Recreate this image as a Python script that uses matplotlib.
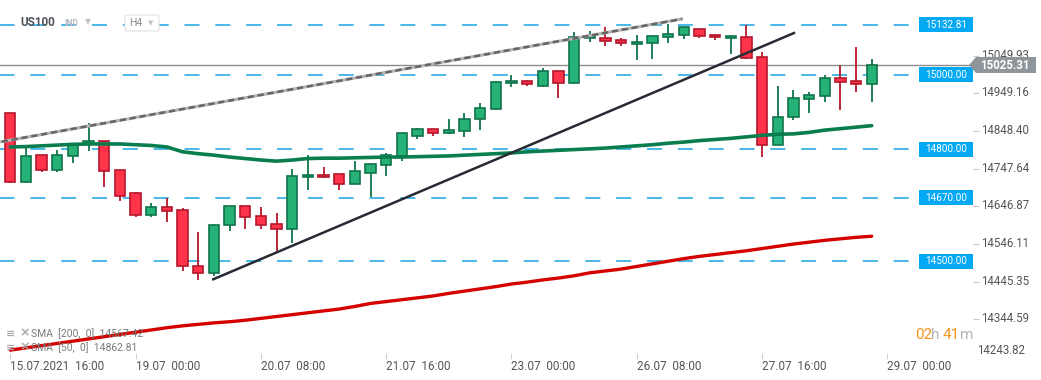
import matplotlib
matplotlib.use("Agg")
import matplotlib.pyplot as plt
from matplotlib.patches import Rectangle, Polygon, FancyBboxPatch
from matplotlib.transforms import blended_transform_factory, ScaledTranslation

plt.rcParams['font.family'] = ['Roboto', 'DejaVu Sans']

# ---------------- data ----------------
time_labels = ["15.07.2021  16:00", "19.07  00:00", "20.07  08:00", "21.07  16:00",
               "23.07  00:00", "26.07  08:00", "27.07  16:00", "29.07  00:00"]
label_index = [0, 8, 16, 24, 32, 40, 48, 56]

opens = [14896.1, 14711.4, 14783.7, 14743.5, 14781.0, 14813.1, 14821.2, 14743.5,
         14681.9, 14623.0, 14644.4, 14636.4, 14486.5, 14467.7, 14596.3, 14647.9,
         14621.1, 14598.9, 14587.1, 14724.8, 14730.9, 14732.8, 14706.0, 14737.1,
         14756.9, 14781.0, 14834.5, 14853.3, 14842.6, 14847.9, 14880.1, 14906.8,
         14976.4, 14981.8, 14968.4, 15008.6, 14976.4, 15096.9, 15096.9, 15091.6,
         15080.9, 15083.5, 15099.6, 15105.0, 15121.0, 15105.0, 15096.9, 15099.6,
         15046.1, 14810.4, 14885.4, 14933.6, 14941.6, 14989.8, 14981.8, 14973.8]
closes = [14711.4, 14781.0, 14743.5, 14783.7, 14813.1, 14821.2, 14740.8, 14673.9,
          14623.0, 14644.4, 14633.7, 14486.5, 14467.7, 14596.3, 14647.9, 14617.7,
          14596.3, 14587.1, 14728.2, 14730.9, 14724.8, 14706.0, 14741.6, 14759.6,
          14783.7, 14843.4, 14853.3, 14842.6, 14850.6, 14880.1, 14909.5, 14979.1,
          14981.8, 14973.8, 15008.6, 14976.4, 15099.6, 15102.3, 15088.9, 15083.5,
          15086.2, 15102.3, 15107.6, 15126.4, 15102.3, 15099.6, 15102.3, 15043.4,
          14810.4, 14885.4, 14936.3, 14944.3, 14989.8, 14979.1, 14973.8, 15025.31]
highs = [14898.0, 14802.4, 14784.0, 14797.9, 14814.0, 14869.3, 14822.0, 14744.0,
         14685.4, 14655.2, 14670.1, 14641.8, 14577.5, 14599.7, 14648.0, 14648.0,
         14645.2, 14629.2, 14747.0, 14784.5, 14752.3, 14733.5, 14768.4, 14760.0,
         14789.8, 14844.7, 14856.8, 14855.4, 14880.9, 14896.9, 14923.7, 14982.6,
         14997.9, 14984.5, 15016.6, 15009.4, 15113.0, 15115.7, 15126.4, 15096.9,
         15105.0, 15103.0, 15134.4, 15127.0, 15122.0, 15107.6, 15103.0, 15132.5,
         15059.4, 14968.4, 14957.7, 14952.3, 14997.9, 15024.6, 15072.8, 15040.7]
lows = [14709.0, 14710.0, 14739.8, 14739.8, 14763.9, 14796.0, 14699.6, 14662.1,
        14617.7, 14617.7, 14605.9, 14474.7, 14450.6, 14461.3, 14581.8, 14587.1,
        14587.1, 14523.9, 14549.7, 14690.8, 14724.0, 14690.8, 14705.5, 14672.8,
        14729.0, 14769.2, 14828.1, 14836.1, 14842.0, 14831.9, 14852.2, 14905.0,
        14967.3, 14968.4, 14965.7, 14937.9, 14973.8, 15086.2, 15075.5, 15075.5,
        15039.6, 15042.3, 15083.5, 15094.2, 15096.9, 15091.6, 15054.1, 15040.7,
        14778.3, 14810.0, 14877.4, 14896.1, 14925.6, 14904.1, 14952.3, 14925.6]

sma50 = [14806, 14807, 14809, 14811, 14813, 14814, 14814, 14814, 14812, 14810,
         14806, 14793, 14788, 14784, 14779, 14775, 14771, 14768, 14771, 14775,
         14776, 14776, 14777, 14778, 14779, 14779, 14780, 14781, 14782, 14784,
         14786, 14788, 14790, 14793, 14795, 14797, 14799, 14801, 14803, 14806,
         14809, 14812, 14816, 14819, 14823, 14826, 14829, 14833, 14837, 14840,
         14841, 14845, 14851, 14855, 14859, 14863]
sma200 = [14262, 14268, 14274, 14280, 14286, 14292, 14298, 14304, 14310, 14316,
          14322, 14327, 14331, 14335, 14338, 14342, 14347, 14352, 14357, 14362,
          14367, 14372, 14379, 14387, 14392, 14397, 14402, 14407, 14414, 14420,
          14426, 14432, 14439, 14444, 14450, 14455, 14461, 14469, 14474, 14479,
          14486, 14493, 14500, 14507, 14513, 14518, 14523, 14528, 14534, 14540,
          14546, 14551, 14556, 14560, 14564, 14567]

level_values = [15132.81, 15000.00, 14800.00, 14670.00, 14500.00]
last_price = 15025.31
ytick_values = [15049.93, 14949.16, 14848.40, 14747.64, 14646.87, 14546.11, 14445.35, 14344.59]
bottom_label = 14243.82
upper_trend_x = [-0.55, 42.87]
upper_trend_y = [14820.1, 15148.6]
lower_trend_x = [12.96, 50.04]
lower_trend_y = [14451.7, 15111.1]
sma200_last = 14567.42
sma50_last = 14862.81

# ---------------- figure ----------------
W, H = 1041, 380
fig = plt.figure(figsize=(W / 100, H / 100), dpi=100)
fig.patch.set_facecolor('white')


def px(x, y):
    return (x / W, 1 - y / H)


ax_right = 973
ax_bottom = 353
ax = fig.add_axes([0, (H - ax_bottom) / H, ax_right / W, ax_bottom / H])
ax.set_facecolor('white')
ax.set_xlim(-0.658, 61.47)
ax.set_ylim(14254.3, 15199.5)
for s in ax.spines.values():
    s.set_visible(False)

blue = '#29abe2'
trans = blended_transform_factory(ax.transAxes, ax.transData)
tag_left = 919 / ax_right
for lv in level_values:
    ax.axhline(lv, xmin=0, xmax=tag_left, color=blue, lw=1.2,
               linestyle=(0.3, (9, 9.5)), zorder=1)
    ax.add_patch(Rectangle((tag_left, lv - 20), 1 - tag_left, 40,
                           transform=trans, facecolor='#03a9f4', edgecolor='none',
                           zorder=6, clip_on=False))
    ax.text((tag_left + 1) / 2, lv, f"{lv:.2f}", transform=trans, ha='center',
            va='center', color='white', fontsize=7.2, zorder=7)

# current price line
ax.axhline(last_price, color='#8c8c8c', lw=1.0, zorder=2)

# candles
red_fill, red_edge = '#ff3349', '#b5172c'
grn_fill, grn_edge = '#26b276', '#10744a'
bw = 0.66
for i in range(len(opens)):
    o, c, h, l = opens[i], closes[i], highs[i], lows[i]
    up = c >= o
    fc = grn_fill if up else red_fill
    ec = grn_edge if up else red_edge
    ax.vlines(i, l, h, color=ec, lw=1.3, zorder=3)
    lo, hi = min(o, c), max(o, c)
    if hi - lo < 5:
        mid = (hi + lo) / 2
        lo, hi = mid - 2.5, mid + 2.5
    ax.add_patch(Rectangle((i - bw / 2, lo), bw, hi - lo, facecolor=fc,
                           edgecolor=ec, lw=1.2, zorder=4))

xs = list(range(len(opens)))
ax.plot(xs, sma50, color='#0a7d4f', lw=2.6, zorder=5, solid_capstyle='round')
ax.plot(xs, sma200, color='#d40000', lw=2.4, zorder=5, solid_capstyle='round')

# trend lines
ax.plot(upper_trend_x, upper_trend_y, color='#b4b4b4', lw=2.2, zorder=5)
ax.plot(upper_trend_x, upper_trend_y, color='#666666', lw=1.8,
        linestyle=(0, (2.5, 1.5)), zorder=5)
ax.plot(lower_trend_x, lower_trend_y, color='#262b33', lw=1.8, zorder=5)

# axes ticks
ax.yaxis.tick_right()
ax.set_yticks(ytick_values)
ax.set_yticklabels([f"{v:.2f}" for v in ytick_values])
ax.tick_params(axis='y', direction='out', length=4, width=0.8, color='#c8c8c8',
               labelsize=8.3, labelcolor='#555555', pad=2)
shift = ScaledTranslation(0, 2 / 100, fig.dpi_scale_trans)
for lab in ax.get_yticklabels():
    lab.set_transform(lab.get_transform() + shift)
ax.set_xticks(label_index)
ax.set_xticklabels(time_labels, ha='left')
ax.tick_params(axis='x', direction='out', length=4, width=0.8, color='#d0d0d0',
               labelsize=8.5, labelcolor='#555555', pad=1)
fig.text(*px(977, 350), f"{bottom_label:.2f}", ha='left', va='center',
         fontsize=8.3, color='#555555')

# current price tag
tag = Polygon([px(969, 65), px(976, 57), px(1036, 57), px(1036, 73), px(976, 73)],
              closed=True, transform=fig.transFigure, facecolor='#8e969b',
              edgecolor='none', zorder=10)
fig.patches.append(tag)
fig.text(*px(1005, 65.5), f"{last_price:.2f}", ha='center', va='center',
         fontsize=8.3, fontweight='bold', color='white', zorder=11)

# header
fig.text(*px(20, 23), "US100", ha='left', va='center', fontsize=8.5,
         fontweight='bold', color='#4d5258')
fig.text(*px(64, 24), "IND", ha='left', va='center', fontsize=6.2,
         fontweight='bold', color='#b3bac1')
fig.text(*px(85, 21.5), "\u25BC", ha='left', va='center', fontsize=5.5,
         color='#c4c4c4', family='DejaVu Sans')
box = FancyBboxPatch(px(125, 31), 34 / W, 16 / H, boxstyle='round,pad=0,rounding_size=0.004',
                     transform=fig.transFigure, facecolor='white', edgecolor='#e2e2e2',
                     lw=0.8)
fig.patches.append(box)
fig.text(*px(129, 23.5), "H4", ha='left', va='center', fontsize=7.5, color='#8a8a8a')
fig.text(*px(148, 23), "\u25BC", ha='left', va='center', fontsize=5, color='#c4c4c4',
         family='DejaVu Sans')

# SMA legend
for yy, txt in [(333.5, f"SMA  [200,  0]  {sma200_last:.2f}"),
                (347.5, f"SMA  [50,  0]  {sma50_last:.2f}")]:
    fig.text(*px(6, yy), "\u2261", ha='left', va='center', fontsize=8,
             color='#a8a8a8', family='DejaVu Sans', fontweight='bold')
    fig.text(*px(19, yy - 1), "\u00D7", ha='left', va='center', fontsize=9,
             color='#a8a8a8', family='DejaVu Sans', fontweight='bold')
    fig.text(*px(31, yy), txt, ha='left', va='center', fontsize=7.5, color='#7a7a7a')

# countdown
orange, grey = '#f7931e', '#b5b5b5'
fig.text(*px(915, 335), "02", ha='left', va='center', fontsize=11, color=orange)
fig.text(*px(931, 335), "h", ha='left', va='center', fontsize=11, color=grey)
fig.text(*px(943, 335), "41", ha='left', va='center', fontsize=11, color=orange)
fig.text(*px(960, 335), "m", ha='left', va='center', fontsize=11, color=grey)

fig.savefig("out.png", dpi=100, facecolor='white')
